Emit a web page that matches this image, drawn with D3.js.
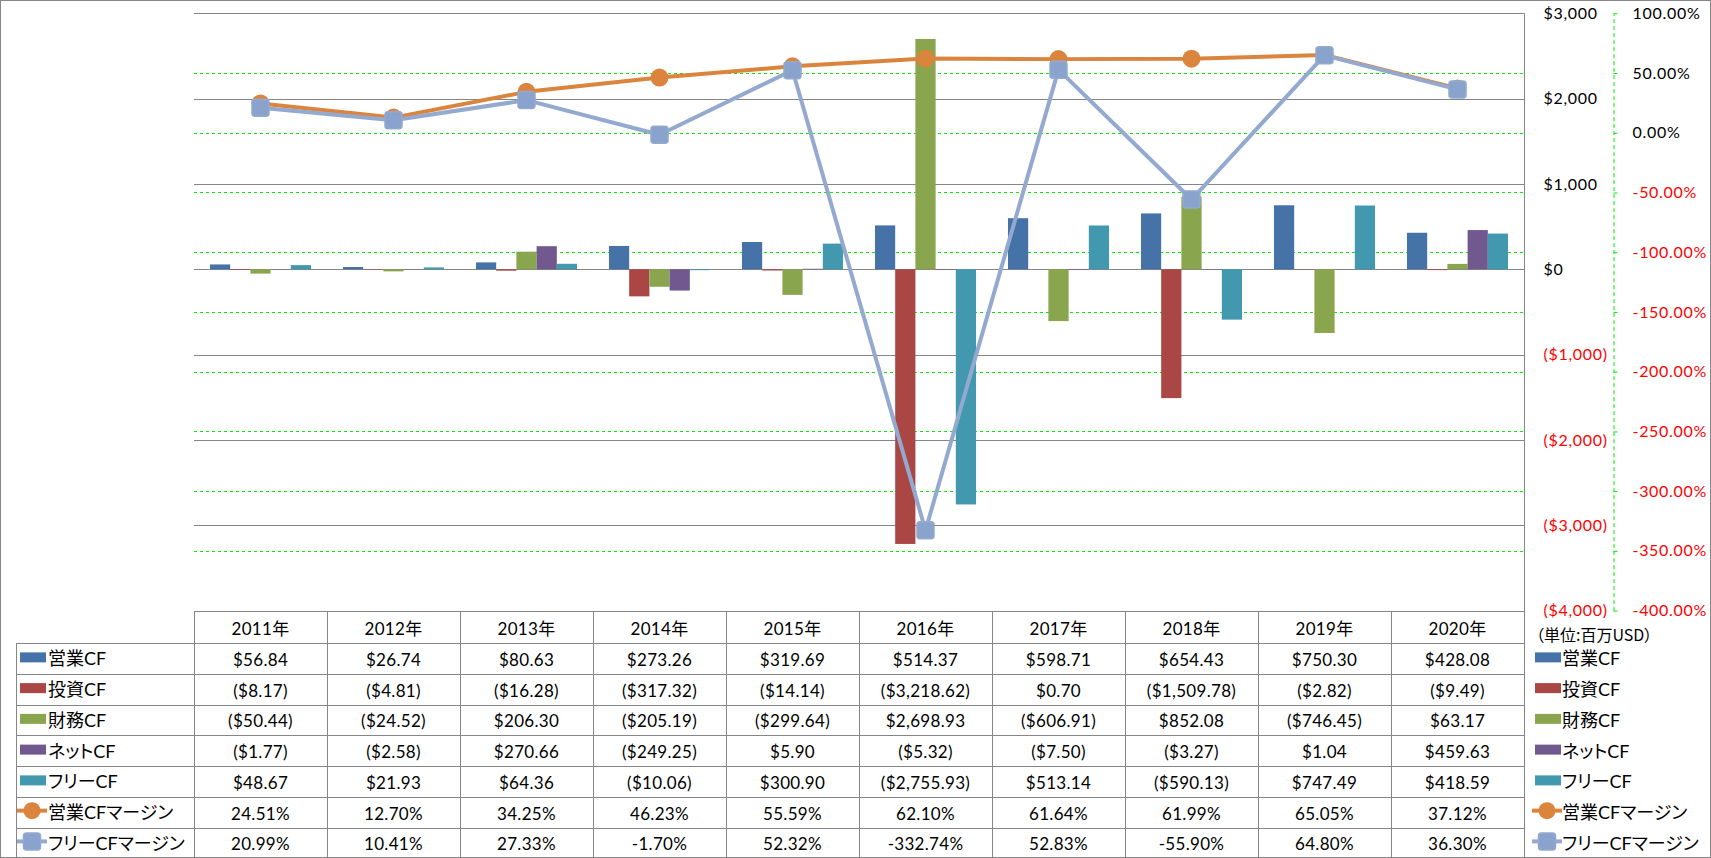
<!DOCTYPE html>
<html>
<head>
<meta charset="utf-8">
<script src="https://cdn.jsdelivr.net/npm/d3@7"></script>
<style>
  body { margin: 0; background: #fff; }
  svg { display: block; font-family: Lato, "Noto Sans CJK JP", sans-serif; }
</style>
</head>
<body>
<script>
// ---- data (百万USD) ----
const years = ["2011年", "2012年", "2013年", "2014年", "2015年", "2016年", "2017年", "2018年", "2019年", "2020年"];
const barSeries = ["営業CF", "投資CF", "財務CF", "ネットCF", "フリーCF"];
const lineSeries = ["営業CFマージン", "フリーCFマージン"];

const operatingCF = [56.84, 26.74, 80.63, 273.26, 319.69, 514.37, 598.71, 654.43, 750.30, 428.08];
const investingCF = [-8.17, -4.81, -16.28, -317.32, -14.14, -3218.62, 0.70, -1509.78, -2.82, -9.49];
const financingCF = [-50.44, -24.52, 206.30, -205.19, -299.64, 2698.93, -606.91, 852.08, -746.45, 63.17];
const netCF = [-1.77, -2.58, 270.66, -249.25, 5.90, -5.32, -7.50, -3.27, 1.04, 459.63];
const freeCF = [48.67, 21.93, 64.36, -10.06, 300.90, -2755.93, 513.14, -590.13, 747.49, 418.59];

const operatingMargin = [24.51, 12.70, 34.25, 46.23, 55.59, 62.10, 61.64, 61.99, 65.05, 37.12];
const freeMargin = [20.99, 10.41, 27.33, -1.70, 52.32, -332.74, 52.83, -55.90, 64.80, 36.30];

const moneyTicks = [3000, 2000, 1000, 0, -1000, -2000, -3000, -4000];
const pctTicks = [100, 50, 0, -50, -100, -150, -200, -250, -300, -350, -400];
const unitLabel = "（単位:百万USD）";

// ---- styles ----
const barColors = ["#4572A7", "#AA4643", "#89A54E", "#71588F", "#4198AF"];
const lineColors = ["#DB843D", "#93A9CF"];
const gridGray = "#868686";
const green = "#00f000";

const W = 1711, H = 858;
const plot = { left: 194, right: 1524, top: 13.3, bottom: 610.6 };
const table = { top: 611, headH: 32, rowH: 30.75, labelLeft: 16 };

const barData = [operatingCF, investingCF, financingCF, netCF, freeCF];
const lineData = [operatingMargin, freeMargin];

const svg = d3.select("body").append("svg")
  .attr("width", W)
  .attr("height", H);

svg.append("rect")
  .attr("x", 0.5).attr("y", 0.5)
  .attr("width", W - 1).attr("height", H - 1)
  .attr("fill", "#fff")
  .attr("stroke", gridGray);

// scales
const x = d3.scaleBand()
  .domain(years)
  .range([plot.left, plot.right])
  .padding(0);

const xs = d3.scaleBand()
  .domain(barSeries)
  .range([0, x.bandwidth()])
  .paddingInner(0)
  .paddingOuter(0.79);

const y = d3.scaleLinear()
  .domain([-4000, 3000])
  .range([plot.bottom, plot.top]);

const y2 = d3.scaleLinear()
  .domain([-400, 100])
  .range([plot.bottom, plot.top]);

// secondary (green dashed) gridlines
svg.append("g")
  .selectAll("line")
  .data(pctTicks.filter(d => d < 100 && d > -400))
  .join("line")
  .attr("x1", plot.left)
  .attr("x2", plot.right)
  .attr("y1", d => Math.round(y2(d)) + 0.5)
  .attr("y2", d => Math.round(y2(d)) + 0.5)
  .attr("stroke", green)
  .attr("stroke-dasharray", "3,3");

// primary gridlines
svg.append("g")
  .selectAll("line")
  .data(moneyTicks)
  .join("line")
  .attr("x1", plot.left)
  .attr("x2", plot.right)
  .attr("y1", d => Math.round(y(d)) + 0.5)
  .attr("y2", d => Math.round(y(d)) + 0.5)
  .attr("stroke", gridGray);

// bars
const barRows = [];
barData.forEach((vals, si) => {
  vals.forEach((v, i) => barRows.push({ series: barSeries[si], si, year: years[i], value: v }));
});

svg.append("g")
  .selectAll("rect")
  .data(barRows)
  .join("rect")
  .attr("x", d => x(d.year) + xs(d.series))
  .attr("width", xs.bandwidth())
  .attr("y", d => y(Math.max(0, d.value)))
  .attr("height", d => Math.abs(y(d.value) - y(0)))
  .attr("fill", d => barColors[d.si]);

// lines (secondary axis)
const line = d3.line()
  .x((d, i) => x(years[i]) + x.bandwidth() / 2)
  .y(d => y2(d));

function drawMarker(g, type, cx, cy, color, size) {
  if (type === "circle") {
    g.append("circle")
      .attr("cx", cx).attr("cy", cy)
      .attr("r", size / 2)
      .attr("fill", color);
  } else {
    g.append("rect")
      .attr("x", cx - size / 2).attr("y", cy - size / 2)
      .attr("width", size).attr("height", size)
      .attr("rx", 3)
      .attr("fill", "#8aa3cd")
      .attr("stroke", color)
      .attr("stroke-width", 1.5);
  }
}

const markerTypes = ["circle", "square"];
lineData.forEach((vals, li) => {
  const g = svg.append("g");
  g.append("path")
    .datum(vals)
    .attr("d", line)
    .attr("fill", "none")
    .attr("stroke", lineColors[li])
    .attr("stroke-width", 4)
    .attr("stroke-linejoin", "round");
  vals.forEach((v, i) => {
    drawMarker(g, markerTypes[li], x(years[i]) + x.bandwidth() / 2, y2(v), lineColors[li], li === 0 ? 18 : 17);
  });
});

// primary axis on right (dollar)
const moneyFmt = d3.format("$,");
const yAxis = svg.append("g")
  .attr("transform", `translate(${plot.right + 0.5},0)`)
  .call(d3.axisRight(y).tickValues(moneyTicks).tickSize(0).tickPadding(19)
    .tickFormat(d => d < 0 ? `(${moneyFmt(-d)})` : moneyFmt(d)));
yAxis.select(".domain").attr("stroke", gridGray).attr("d", `M0,${plot.top}V${H}`);
yAxis.selectAll("text")
  .attr("fill", d => d < 0 ? "#ff0000" : "#000")
  .style("font-size", "16px")
  .style("letter-spacing", "0.7px")
  .style("font-family", "Lato, sans-serif");

// secondary axis (percent); plain hyphen for the minus sign
const pct = v => v.toFixed(2) + "%";
const y2Axis = svg.append("g")
  .attr("transform", `translate(1613.5,0)`)
  .call(d3.axisRight(y2).tickValues(pctTicks).tickSizeInner(4).tickSizeOuter(0).tickPadding(15)
    .tickFormat(pct));
y2Axis.select(".domain").attr("stroke", green).attr("stroke-dasharray", "4,3");
y2Axis.selectAll(".tick line").attr("stroke", green);
y2Axis.selectAll("text")
  .attr("fill", d => d < 0 ? "#ff0000" : "#000")
  .style("font-size", "16px")
  .style("letter-spacing", "0.7px")
  .style("font-family", "Lato, sans-serif");

// ---- data table ----
const fmtMoney = d3.format("$,.2f");
const money = v => v < 0 ? `(${fmtMoney(-v)})` : fmtMoney(v);

const allRows = barSeries.map((name, i) => ({ name, kind: "bar", color: barColors[i], values: barData[i], fmt: money }))
  .concat(lineSeries.map((name, i) => ({ name, kind: markerTypes[i], color: lineColors[i], values: lineData[i], fmt: pct })));

const tbl = svg.append("g");
const rowTop = i => table.top + table.headH + i * table.rowH;

// header top line
tbl.append("line")
  .attr("x1", plot.left).attr("x2", plot.right)
  .attr("y1", table.top + 0.5).attr("y2", table.top + 0.5)
  .attr("stroke", gridGray);

// row lines
tbl.selectAll(".rowline")
  .data(d3.range(allRows.length + 1))
  .join("line")
  .attr("x1", table.labelLeft).attr("x2", plot.right)
  .attr("y1", i => Math.round(rowTop(i)) + 0.5)
  .attr("y2", i => Math.round(rowTop(i)) + 0.5)
  .attr("stroke", gridGray);

// column lines
tbl.selectAll(".colline")
  .data(d3.range(years.length + 1))
  .join("line")
  .attr("x1", i => Math.round(plot.left + i * x.bandwidth()) + 0.5)
  .attr("x2", i => Math.round(plot.left + i * x.bandwidth()) + 0.5)
  .attr("y1", table.top)
  .attr("y2", H)
  .attr("stroke", gridGray);

tbl.append("line")
  .attr("x1", table.labelLeft + 0.5).attr("x2", table.labelLeft + 0.5)
  .attr("y1", rowTop(0)).attr("y2", H)
  .attr("stroke", gridGray);

// header labels
tbl.selectAll(".yr")
  .data(years)
  .join("text")
  .attr("x", d => x(d) + x.bandwidth() / 2)
  .attr("y", table.top + table.headH / 2 + 1)
  .attr("text-anchor", "middle")
  .attr("dominant-baseline", "central")
  .style("font-size", "17px")
  .style("letter-spacing", "0.3px")
  .text(d => d);

// cell values
allRows.forEach((row, ri) => {
  const cy = rowTop(ri) + table.rowH / 2;
  tbl.append("g")
    .selectAll("text")
    .data(row.values)
    .join("text")
    .attr("x", (d, i) => x(years[i]) + x.bandwidth() / 2)
    .attr("y", cy + 1)
    .attr("text-anchor", "middle")
    .attr("dominant-baseline", "central")
    .style("font-size", "17px")
    .style("letter-spacing", "0.3px")
    .text(d => row.fmt(d));
});

// legend keys (left in table, and right of table)
function legendKey(g, row, x0, cy) {
  if (row.kind === "bar") {
    g.append("rect")
      .attr("x", x0 + 3).attr("y", cy - 6)
      .attr("width", 26).attr("height", 10)
      .attr("fill", row.color);
  } else {
    g.append("line")
      .attr("x1", x0).attr("x2", x0 + 30)
      .attr("y1", cy - 1.5).attr("y2", cy - 1.5)
      .attr("stroke", row.color)
      .attr("stroke-width", 4);
    drawMarker(g, row.kind, x0 + 15, cy - 1.5, row.color, 17);
  }
}

allRows.forEach((row, ri) => {
  const cy = rowTop(ri) + table.rowH / 2;
  legendKey(tbl, row, 17, cy);
  tbl.append("text")
    .attr("x", 48)
    .attr("y", cy)
    .attr("dominant-baseline", "central")
    .style("font-size", "18px")
    .style("font-feature-settings", "'palt' 1")
    .text(row.name);

  legendKey(tbl, row, 1532, cy);
  tbl.append("text")
    .attr("x", 1562)
    .attr("y", cy)
    .attr("dominant-baseline", "central")
    .style("font-size", "18px")
    .style("font-feature-settings", "'palt' 1")
    .text(row.name);
});

svg.append("text")
  .attr("x", 1536)
  .attr("y", 634)
  .attr("dominant-baseline", "central")
  .style("font-size", "16px")
  .style("font-family", "'Noto Sans CJK JP', sans-serif")
  .style("font-feature-settings", "'palt' 1")
  .text(unitLabel);
</script>
</body>
</html>
